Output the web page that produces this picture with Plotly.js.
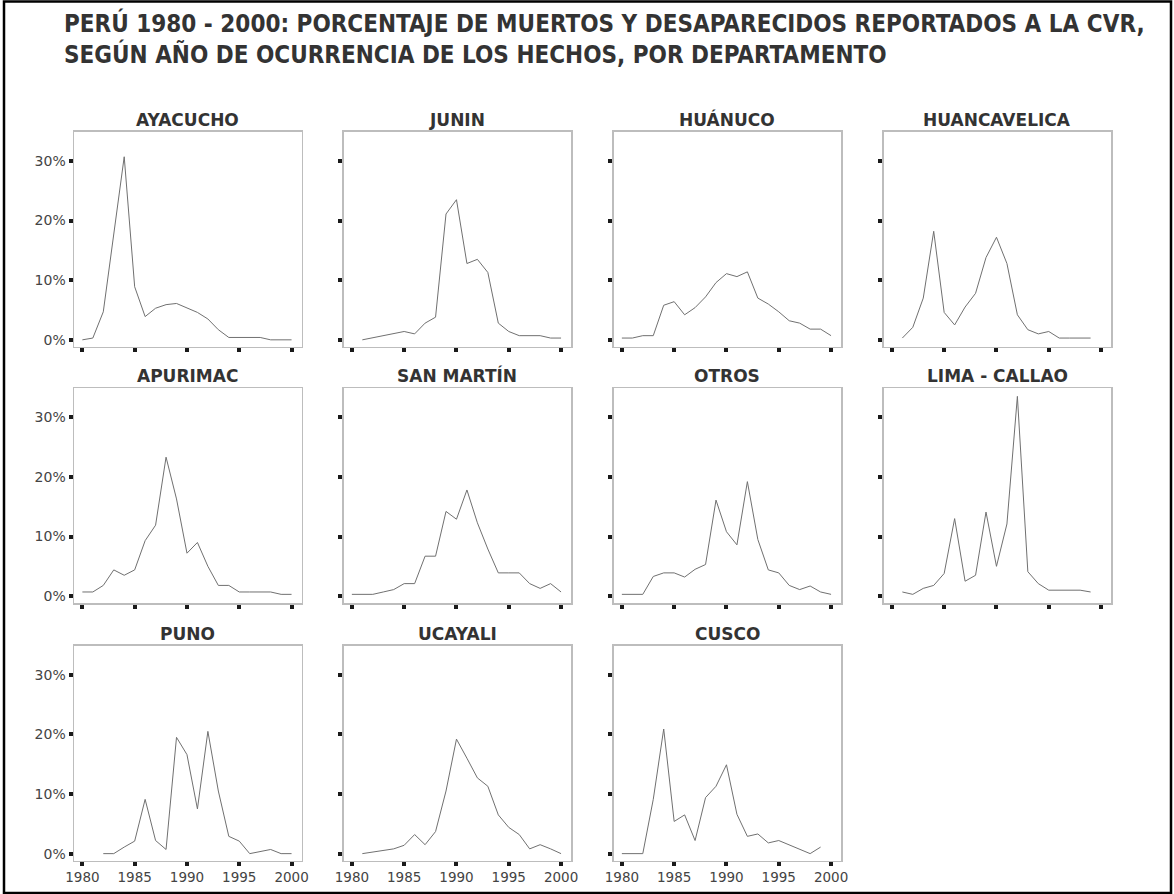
<!DOCTYPE html>
<html><head><meta charset="utf-8">
<script src="https://cdn.plot.ly/plotly-3.0.1.min.js"></script>
<style>body{margin:0;background:#fff}#chart{width:1174px;height:894px}</style>
</head><body><div id="chart"></div>
<script>
const years = [1980,1981,1982,1983,1984,1985,1986,1987,1988,1989,1990,1991,1992,1993,1994,1995,1996,1997,1998,1999,2000];
const departments = ["AYACUCHO","JUNIN","HUÁNUCO","HUANCAVELICA","APURIMAC","SAN MARTÍN","OTROS","LIMA - CALLAO","PUNO","UCAYALI","CUSCO"];
const ayacucho     = [0.0,0.3,4.7,17.5,30.7,8.9,3.9,5.3,5.9,6.1,5.3,4.6,3.5,1.7,0.4,0.4,0.4,0.4,0.0,0.0,0.0];
const junin        = [null,0.0,0.35,0.7,1.05,1.4,1.0,2.8,3.8,21.1,23.5,12.8,13.5,11.3,2.8,1.4,0.7,0.7,0.7,0.3,0.3];
const huanuco      = [0.3,0.3,0.7,0.7,5.8,6.4,4.2,5.4,7.2,9.6,11.1,10.6,11.4,7.0,6.0,4.7,3.2,2.8,1.8,1.8,0.7];
const huancavelica = [null,0.3,2.1,7.0,18.2,4.6,2.5,5.5,7.8,13.8,17.2,12.8,4.2,1.7,1.0,1.4,0.3,0.3,0.3,0.3,null];
const apurimac     = [0.7,0.7,1.8,4.4,3.5,4.4,9.3,11.9,23.3,16.3,7.2,9.0,5.0,1.8,1.8,0.7,0.7,0.7,0.7,0.3,0.3];
const sanMartin    = [0.3,0.3,0.3,0.7,1.1,2.1,2.1,6.7,6.7,14.2,12.9,17.8,12.3,7.9,3.9,3.9,3.9,2.1,1.3,2.1,0.7];
const otros        = [0.3,0.3,0.3,3.3,3.9,3.9,3.2,4.5,5.3,16.1,10.8,8.6,19.2,9.5,4.4,3.9,1.8,1.1,1.7,0.7,0.3];
const limaCallao   = [null,0.7,0.3,1.3,1.8,3.8,13.0,2.5,3.5,14.1,5.0,12.1,33.5,4.1,2.1,1.0,1.0,1.0,1.0,0.7,null];
const puno         = [null,null,0.0,0.0,1.1,2.1,9.1,2.2,0.7,19.5,16.6,7.5,20.5,10.5,2.9,2.1,0.0,0.4,0.7,0.0,0.0];
const ucayali      = [null,0.0,0.3,0.5,0.8,1.4,3.2,1.5,3.7,10.5,19.2,16.0,12.7,11.3,6.5,4.4,3.2,0.8,1.5,0.8,0.0];
const cusco        = [0.0,0.0,0.0,9.1,20.9,5.4,6.5,2.2,9.4,11.3,14.9,6.6,2.9,3.3,1.8,2.2,1.5,0.8,0.0,1.1,null];
const yTickVals = [0,10,20,30];
const yTickText = ["0%","10%","20%","30%"];
const xTickVals = [1980,1985,1990,1995,2000];
const xTickText = ["1980","1985","1990","1995","2000"];
const titleLines = ["PERÚ 1980 - 2000: PORCENTAJE DE MUERTOS Y DESAPARECIDOS REPORTADOS A LA CVR,","SEGÚN AÑO DE OCURRENCIA DE LOS HECHOS, POR DEPARTAMENTO"];

const series = [ayacucho,junin,huanuco,huancavelica,apurimac,sanMartin,otros,limaCallao,puno,ucayali,cusco];

const W = 1174, H = 894;
const colLeft = [74, 343.5, 613.5, 883.5];
const panelW = 227.5;
const rowTop = [131.7, 388, 645.5];
const panelH = 215;

const traces = [];
const layout = {
  width: W, height: H,
  margin: {l:0, r:0, t:0, b:0},
  paper_bgcolor: '#fff', plot_bgcolor: '#fff',
  showlegend: false,
  font: {family: 'DejaVu Sans, Arial, sans-serif', color: '#444'},
  annotations: [], shapes: []
};

series.forEach((vals, i) => {
  const r = Math.floor(i / 4), c = i % 4;
  const n = i + 1;
  const sfx = n === 1 ? '' : String(n);
  traces.push({
    type: 'scatter', mode: 'lines', x: years, y: vals,
    xaxis: 'x' + sfx, yaxis: 'y' + sfx,
    line: {color: '#707070', width: 1}, connectgaps: false, hoverinfo: 'skip'
  });
  const x0 = colLeft[c] / W, x1 = (colLeft[c] + panelW) / W;
  const y1 = 1 - rowTop[r] / H, y0 = 1 - (rowTop[r] + panelH) / H;
  layout['xaxis' + sfx] = {
    domain: [x0, x1], anchor: 'y' + sfx,
    range: [1979.2, 2000.95], tickmode: 'array', tickvals: xTickVals, ticktext: xTickText,
    showticklabels: i >= 8,
    ticks: 'outside', ticklen: 4, tickwidth: 4, tickcolor: '#1a1a1a',
    showline: true, mirror: true, linecolor: '#bdbdbd', linewidth: 1.5,
    showgrid: false, zeroline: false, fixedrange: true,
    tickfont: {family: 'DejaVu Sans, sans-serif', size: 13.5, color: '#444'}
  };
  layout['yaxis' + sfx] = {
    domain: [y0, y1], anchor: 'x' + sfx,
    range: [-1.15, 34.9], tickmode: 'array', tickvals: yTickVals, ticktext: yTickText,
    showticklabels: c === 0,
    ticks: 'outside', ticklen: 4, tickwidth: 4, tickcolor: '#1a1a1a',
    showline: true, mirror: true, linecolor: '#bdbdbd', linewidth: 1.5,
    showgrid: false, zeroline: false, fixedrange: true,
    tickfont: {family: 'DejaVu Sans, sans-serif', size: 14, color: '#444'}
  };
  layout.annotations.push({
    xref: 'paper', yref: 'paper', x: (x0 + x1) / 2, y: y1,
    xanchor: 'center', yanchor: 'bottom', yshift: 0, showarrow: false,
    text: '<b>' + departments[i] + '</b>',
    font: {family: 'DejaVu Sans, Arial, sans-serif', size: 17, color: '#333'}
  });
});

layout.annotations.push({
  xref: 'paper', yref: 'paper', x: 62 / W, y: 1 - 6 / H,
  xanchor: 'left', yanchor: 'top', align: 'left', showarrow: false,
  text: '<b>' + titleLines.join('<br>') + '</b>',
  font: {family: 'Liberation Sans Narrow, DejaVu Sans Condensed, Arial Narrow, sans-serif', size: 24, color: '#333'}
});

layout.shapes.push({
  type: 'rect', xref: 'paper', yref: 'paper',
  x0: 4 / W, x1: 1171 / W, y0: 1 / H, y1: 1 - 1.5 / H,
  line: {color: '#000', width: 2.5}, fillcolor: 'rgba(0,0,0,0)'
});

Plotly.newPlot('chart', traces, layout, {staticPlot: true, displayModeBar: false});
</script></body></html>
